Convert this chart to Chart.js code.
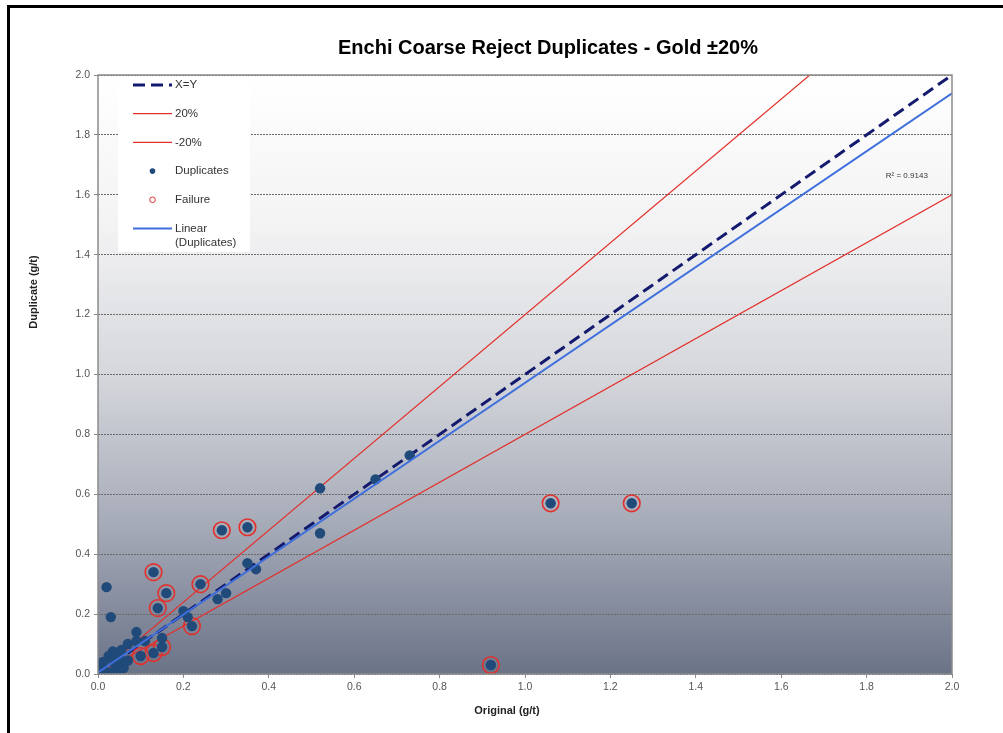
<!DOCTYPE html>
<html>
<head>
<meta charset="utf-8">
<title>Enchi Coarse Reject Duplicates - Gold ±20%</title>
<script src="https://cdn.jsdelivr.net/npm/chart.js@4/dist/chart.umd.min.js"></script>
<style>
  html, body { margin: 0; padding: 0; background: #ffffff; }
  #wrap { position: relative; width: 1003px; height: 733px; overflow: hidden; }
  #chart { position: absolute; left: 0; top: 0; }
  #frame {
    position: absolute; left: 7px; top: 5px; width: 1000px; height: 760px;
    border-left: 3px solid #000; border-top: 3px solid #000; pointer-events: none;
  }
</style>
</head>
<body>
<div id="wrap">
  <canvas id="chart" width="1003" height="733"></canvas>
  <div id="frame"></div>
</div>
<script>
// values
const originalGT = [
  0.02, 0.03, 0.13, 0.16, 0.14, 0.24, 0.29, 0.35, 0.22, 0.20,
  0.21, 0.28, 0.30, 0.35, 0.37, 0.52, 0.52, 0.65, 0.73, 1.06,
  1.25, 0.92, 0.10, 0.13, 0.15, 0.15, 0.09, 0.09, 0.07, 0.055,
  0.035, 0.025, 0.012, 0.005, 0.04, 0.06, 0.07, 0.025, 0.045, 0.015,
  0.06, 0.035, 0.05, 0.11
];
const duplicateGT = [
  0.29, 0.19, 0.34, 0.27, 0.22, 0.30, 0.48, 0.49, 0.16, 0.21,
  0.19, 0.25, 0.27, 0.37, 0.35, 0.62, 0.47, 0.65, 0.73, 0.57,
  0.57, 0.03, 0.06, 0.07, 0.09, 0.12, 0.14, 0.11, 0.10, 0.08,
  0.075, 0.06, 0.04, 0.02, 0.03, 0.035, 0.045, 0.005, 0.01, 0.01,
  0.02, 0.045, 0.055, 0.11
];
const failureX = [0.13, 0.16, 0.14, 0.24, 0.29, 0.35, 0.22, 1.06, 1.25, 0.92, 0.10, 0.13, 0.15];
const failureY = [0.34, 0.27, 0.22, 0.30, 0.48, 0.49, 0.16, 0.57, 0.57, 0.03, 0.06, 0.07, 0.09];

const xyLineX = [0, 2.0];
const xyLineY = [0, 2.0];
const plus20X = [0, 1.667];
const plus20Y = [0, 2.0];
const minus20X = [0, 2.0];
const minus20Y = [0, 1.6];
const trendX = [0, 2.0];
const trendY = [0.005, 1.939];

const axisTicks = [0.0, 0.2, 0.4, 0.6, 0.8, 1.0, 1.2, 1.4, 1.6, 1.8, 2.0];
const chartTitle = 'Enchi Coarse Reject Duplicates - Gold ±20%';
const xTitle = 'Original (g/t)';
const yTitle = 'Duplicate (g/t)';
const rSquared = 'R² = 0.9143';

const FONT = "'Liberation Sans', Arial, sans-serif";

const toPoints = (xs, ys) => xs.map((x, i) => ({ x: x, y: ys[i] }));

const decorations = {
  id: 'decorations',
  beforeDraw(chart) {
    const { ctx, chartArea: a } = chart;
    const g = ctx.createLinearGradient(0, a.top, 0, a.bottom);
    g.addColorStop(0, '#ffffff');
    g.addColorStop(0.25, '#f3f3f4');
    g.addColorStop(0.5, '#d5d7dc');
    g.addColorStop(0.75, '#a6abb8');
    g.addColorStop(1, '#6b7388');
    ctx.save();
    ctx.fillStyle = g;
    ctx.fillRect(a.left, a.top, a.right - a.left, a.bottom - a.top);
    ctx.restore();
  },
  afterDraw(chart) {
    const { ctx, chartArea: a, scales } = chart;
    ctx.save();

    // plot border
    ctx.strokeStyle = '#8c8c8c';
    ctx.lineWidth = 1.5;
    ctx.setLineDash([]);
    ctx.strokeRect(a.left, a.top, a.right - a.left, a.bottom - a.top);

    // title
    ctx.fillStyle = '#000';
    ctx.font = 'bold 20px ' + FONT;
    ctx.textAlign = 'center';
    ctx.textBaseline = 'middle';
    ctx.fillText(chartTitle, 548, 48);

    // axis titles (placed off-centre like the original)
    ctx.fillStyle = '#222';
    ctx.font = 'bold 11px ' + FONT;
    ctx.fillText(xTitle, 507, 711);
    ctx.save();
    ctx.translate(34, 292);
    ctx.rotate(-Math.PI / 2);
    ctx.fillText(yTitle, 0, 0);
    ctx.restore();

    // R squared label
    ctx.font = '8px ' + FONT;
    ctx.fillStyle = '#333';
    ctx.textAlign = 'left';
    ctx.fillText(rSquared, scales.x.getPixelForValue(1.845), scales.y.getPixelForValue(1.662));

    // legend box in the top left corner of the plot
    const bx = a.left + 20, by = a.top + 1, bw = 132, bh = 176;
    ctx.fillStyle = '#ffffff';
    ctx.fillRect(bx, by, bw, bh);

    const sx0 = bx + 15, sx1 = bx + 54, tx = bx + 57;
    let y = by + 9;
    ctx.font = '11.5px ' + FONT;
    ctx.textBaseline = 'middle';
    chart.data.datasets.forEach(ds => {
      if (ds.kind === 'line') {
        ctx.beginPath();
        ctx.strokeStyle = ds.borderColor;
        ctx.lineWidth = ds.borderWidth;
        ctx.setLineDash(ds.borderDash || []);
        ctx.moveTo(sx0, y);
        ctx.lineTo(sx1, y);
        ctx.stroke();
        ctx.setLineDash([]);
      } else if (ds.kind === 'dot') {
        ctx.beginPath();
        ctx.fillStyle = ds.backgroundColor;
        ctx.arc((sx0 + sx1) / 2, y, 2.8, 0, Math.PI * 2);
        ctx.fill();
      } else if (ds.kind === 'ring') {
        ctx.beginPath();
        ctx.strokeStyle = ds.borderColor;
        ctx.lineWidth = 1;
        ctx.arc((sx0 + sx1) / 2, y, 2.8, 0, Math.PI * 2);
        ctx.stroke();
      }
      ctx.fillStyle = '#333';
      const lines = ds.legendLines || [ds.label];
      lines.forEach((t, i) => ctx.fillText(t, tx, y + i * 14));
      y += 28.7;
    });

    ctx.restore();
  }
};

new Chart(document.getElementById('chart'), {
  type: 'scatter',
  data: {
    datasets: [
      {
        label: 'X=Y', kind: 'line',
        data: toPoints(xyLineX, xyLineY),
        showLine: true, pointRadius: 0,
        borderColor: '#141a6e', borderWidth: 3, borderDash: [12, 6],
        order: 3
      },
      {
        label: '20%', kind: 'line',
        data: toPoints(plus20X, plus20Y),
        showLine: true, pointRadius: 0,
        borderColor: '#e2312d', borderWidth: 1.2,
        order: 3
      },
      {
        label: '-20%', kind: 'line',
        data: toPoints(minus20X, minus20Y),
        showLine: true, pointRadius: 0,
        borderColor: '#e2312d', borderWidth: 1.2,
        order: 3
      },
      {
        label: 'Duplicates', kind: 'dot',
        data: toPoints(originalGT, duplicateGT),
        pointRadius: 5.2, pointBorderWidth: 0,
        backgroundColor: '#1f4a7a', borderColor: '#1f4a7a',
        order: 1
      },
      {
        label: 'Failure', kind: 'ring',
        data: toPoints(failureX, failureY),
        pointRadius: 8.3, pointBorderWidth: 1.6,
        backgroundColor: 'rgba(0,0,0,0)', borderColor: '#e2312d',
        order: 2
      },
      {
        label: 'Linear (Duplicates)', kind: 'line', legendLines: ['Linear', '(Duplicates)'],
        data: toPoints(trendX, trendY),
        showLine: true, pointRadius: 0,
        borderColor: '#3f6fdc', borderWidth: 2,
        order: 0
      }
    ]
  },
  options: {
    responsive: false,
    animation: false,
    layout: { padding: { left: 23, right: 51, top: 75, bottom: 12 } },
    plugins: {
      legend: { display: false },
      title: { display: false },
      tooltip: { enabled: false }
    },
    scales: {
      x: {
        type: 'linear', min: 0, max: 2,
        afterFit: s => { s.height = 47; },
        afterBuildTicks: s => { s.ticks = axisTicks.map(v => ({ value: v })); },
        ticks: {
          color: '#555', font: { family: FONT, size: 10.5 }, padding: 3,
          callback: v => Number(v).toFixed(1)
        },
        grid: { drawOnChartArea: false, drawTicks: true, tickLength: 4, tickColor: '#8c8c8c' },
        border: { display: false },
        title: { display: false }
      },
      y: {
        type: 'linear', min: 0, max: 2,
        afterFit: s => { s.width = 75; },
        afterBuildTicks: s => { s.ticks = axisTicks.map(v => ({ value: v })); },
        ticks: {
          color: '#555', font: { family: FONT, size: 10.5 }, padding: 4,
          callback: v => Number(v).toFixed(1)
        },
        grid: { color: '#6a6a6a', lineWidth: 1, tickLength: 4, tickColor: '#8c8c8c' },
        border: { display: false, dash: [2, 1] },
        title: { display: false }
      }
    }
  },
  plugins: [decorations]
});
</script>
</body>
</html>
